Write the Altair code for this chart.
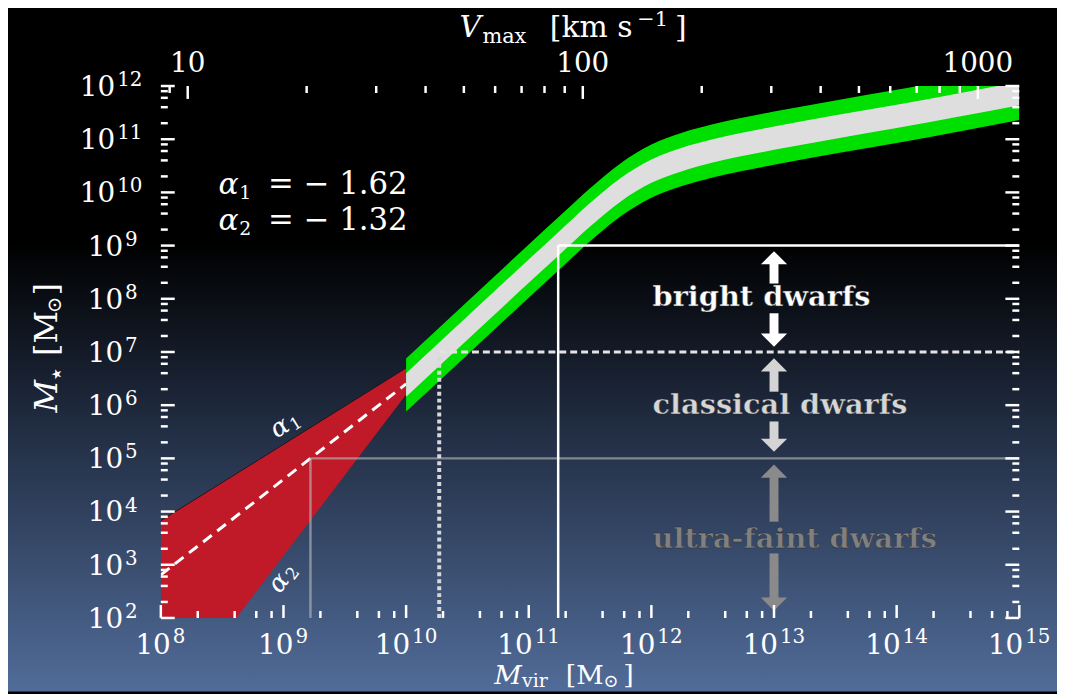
import altair as alt
import pandas as pd

W, H = 865, 536
PAD = {"left": 154, "top": 76, "right": 38, "bottom": 74}

XDOM = [1e8, 1e15]
YDOM = [1e2, 1e12]
VDOM = [8.55, 1273.0]
SERIF = "DejaVu Serif"

# ---- data (log10 values) ----
band_logmvir = [10.0, 10.5, 11.0, 11.25, 11.5, 11.75, 12.0, 12.25, 12.5, 13.0, 13.5, 14.0, 14.5, 15.0]
green_hi = [6.88, 7.95, 9.02, 9.55, 10.08, 10.55, 10.90, 11.12, 11.28, 11.52, 11.73, 11.93, 12.14, 12.36]
green_lo = [5.88, 6.95, 8.02, 8.55, 9.08, 9.55, 9.90, 10.12, 10.28, 10.52, 10.73, 10.93, 11.14, 11.36]
grey_hi = [6.60, 7.67, 8.74, 9.27, 9.80, 10.27, 10.62, 10.84, 11.00, 11.24, 11.45, 11.65, 11.86, 12.08]
grey_lo = [6.16, 7.23, 8.30, 8.83, 9.36, 9.83, 10.18, 10.40, 10.56, 10.80, 11.01, 11.21, 11.42, 11.64]

red_logmvir = [8.0, 8.615, 10.0]
red_hi = [3.83, 4.71, 6.70]
red_lo = [2.0, 2.0, 6.20]

dash_logmvir = [8.0, 10.0]
dash_logms = [2.81, 6.40]

# thresholds: (log Mvir of vertical line, log M* of horizontal line)
box_grey = (9.22, 5.0)
box_dot = (10.27, 7.0)
box_white = (11.24, 9.0)

arrow_group = ["bright", "bright", "classical", "classical", "ultra", "ultra"]
arrow_dir = ["up", "down", "up", "down", "up", "down"]
arrow_head = [8.772, 7.224, 6.757, 5.246, 4.761, 2.261]
arrow_tail = [8.287, 7.728, 6.254, 5.694, 3.810, 3.213]
arrow_logmvir = 13.0
group_colors = {"bright": "#ffffff", "classical": "#d4d4d4", "ultra": "#8a8a8a"}

dwarf_labels = ["bright dwarfs", "classical dwarfs", "ultra-faint dwarfs"]
dwarf_logms = [8.03, 6.01, 3.49]
dwarf_colors = ["#ffffff", "#d6d6d6", "#808080"]
dwarf_logmvir = 12.01

alpha_sub = ["1", "2"]
alpha_values = ["=  −  1.62", "=  −  1.32"]
alpha_text_logms = [10.13, 9.46]
alpha_text_logmvir = 8.47

edge_sub = ["1", "2"]
edge_logmvir = [9.01, 8.99]
edge_logms = [5.64, 2.75]
edge_angle = [328, 307]

x_major_exp = [8, 9, 10, 11, 12, 13, 14, 15]
y_major_exp = [2, 3, 4, 5, 6, 7, 8, 9, 10, 11, 12]
x_minor = [k * 10.0 ** n for n in range(8, 15) for k in (2, 4, 6, 8)]
y_minor = [k * 10.0 ** n for n in range(2, 12) for k in (2, 4, 6, 8)]
v_major = [10, 100, 1000]
v_minor = [9] + [k * 10 for k in range(2, 10)] + [k * 100 for k in range(2, 10)]


def xs():
    return alt.Scale(type="log", domain=XDOM, nice=False)


def ys():
    return alt.Scale(type="log", domain=YDOM, nice=False)


def X(f):
    return alt.X(f, type="quantitative", scale=xs(), axis=None)


def Y(f):
    return alt.Y(f, type="quantitative", scale=ys(), axis=None)


one = alt.Data(values=[{}])
layers = []

# ---- background gradient ----
grad = {
    "gradient": "linear", "x1": 0, "y1": 0, "x2": 0, "y2": 1,
    "stops": [
        {"offset": 0, "color": "#000000"},
        {"offset": 0.34, "color": "#000000"},
        {"offset": 0.62, "color": "#222e44"},
        {"offset": 1, "color": "#516c99"},
    ],
}
layers.append(
    alt.Chart(one).mark_rect(color=grad).encode(
        x=alt.value(-PAD["left"]), x2=alt.value(W + PAD["right"]),
        y=alt.value(-PAD["top"]), y2=alt.value(H + PAD["bottom"]),
    )
)

# ---- red wedge ----
red_df = pd.DataFrame({
    "m": [10 ** v for v in red_logmvir],
    "hi": [10 ** v for v in red_hi],
    "lo": [10 ** v for v in red_lo],
})
layers.append(
    alt.Chart(red_df).mark_area(color="#c01a28", clip=True)
    .encode(x=X("m"), y=Y("hi"), y2="lo:Q")
)
layers.append(
    alt.Chart(red_df).mark_line(color="#111111", strokeWidth=0.8, clip=True)
    .encode(x=X("m"), y=Y("hi"))
)

# ---- dashed median line ----
dash_df = pd.DataFrame({"m": [10 ** v for v in dash_logmvir], "s": [10 ** v for v in dash_logms]})
layers.append(
    alt.Chart(dash_df).mark_line(color="white", strokeWidth=3, strokeDash=[11, 7], clip=True)
    .encode(x=X("m"), y=Y("s"))
)

# ---- green / grey band ----
band_df = pd.DataFrame({
    "m": [10 ** v for v in band_logmvir],
    "ghi": [10 ** v for v in green_hi],
    "glo": [10 ** v for v in green_lo],
    "chi": [10 ** v for v in grey_hi],
    "clo": [10 ** v for v in grey_lo],
})
layers.append(
    alt.Chart(band_df).mark_area(color="#00e000", interpolate="monotone", clip=True)
    .encode(x=X("m"), y=Y("ghi"), y2="glo:Q")
)
layers.append(
    alt.Chart(band_df).mark_area(color="#dedede", interpolate="monotone", clip=True)
    .encode(x=X("m"), y=Y("chi"), y2="clo:Q")
)


# ---- threshold boxes ----
def box_rules(b):
    vx, hy = b
    vert = pd.DataFrame({"x": [10 ** vx], "x2": [10 ** vx], "y": [YDOM[0]], "y2": [10 ** hy]})
    hor = pd.DataFrame({"x": [10 ** vx], "x2": [XDOM[1]], "y": [10 ** hy], "y2": [10 ** hy]})
    return vert, hor


gv, gh = box_rules(box_grey)
for d in (gv, gh):
    layers.append(
        alt.Chart(d).mark_rule(color="#b4b4b4", opacity=0.65, strokeWidth=2.5)
        .encode(x=X("x"), x2="x2:Q", y=Y("y"), y2="y2:Q")
    )
dv, dh = box_rules(box_dot)
layers.append(
    alt.Chart(dv).mark_rule(color="#d8d8d8", strokeWidth=4, strokeDash=[4, 3])
    .encode(x=X("x"), x2="x2:Q", y=Y("y"), y2="y2:Q")
)
layers.append(
    alt.Chart(dh).mark_rule(color="#e4e4e4", strokeWidth=3, strokeDash=[7, 4])
    .encode(x=X("x"), x2="x2:Q", y=Y("y"), y2="y2:Q")
)
wv, wh = box_rules(box_white)
for d in (wv, wh):
    layers.append(
        alt.Chart(d).mark_rule(color="white", strokeWidth=2.5)
        .encode(x=X("x"), x2="x2:Q", y=Y("y"), y2="y2:Q")
    )

# ---- arrows ----
UP = "M-1,0.5L0,-0.5L1,0.5Z"
DOWN = "M-1,-0.5L0,0.5L1,-0.5Z"
arr_df = pd.DataFrame({
    "m": [10 ** arrow_logmvir] * len(arrow_group),
    "head": [10 ** v for v in arrow_head],
    "tail": [10 ** v for v in arrow_tail],
    "col": [group_colors[g] for g in arrow_group],
    "shp": [UP if d == "up" else DOWN for d in arrow_dir],
})
layers.append(
    alt.Chart(arr_df).mark_rule(strokeWidth=9, strokeCap="butt")
    .encode(x=X("m"), y=Y("head"), y2="tail:Q", color=alt.Color("col:N", scale=None))
)
layers.append(
    alt.Chart(arr_df).mark_point(filled=True, size=700, opacity=1)
    .encode(x=X("m"), y=Y("head"), color=alt.Color("col:N", scale=None),
            shape=alt.Shape("shp:N", scale=None))
)

# ---- dwarf labels ----
dw_df = pd.DataFrame({
    "m": [10 ** dwarf_logmvir] * 3,
    "s": [10 ** v for v in dwarf_logms],
    "t": dwarf_labels,
    "col": dwarf_colors,
})
layers.append(
    alt.Chart(dw_df).mark_text(align="left", baseline="middle", font=SERIF, fontWeight="bold",
                               fontSize=29, stroke="#2a2a2a", strokeWidth=0.4)
    .encode(x=X("m"), y=Y("s"), text="t:N", color=alt.Color("col:N", scale=None))
)

# ---- alpha annotations ----
al_df = pd.DataFrame({"m": [10 ** alpha_text_logmvir] * 2, "s": [10 ** v for v in alpha_text_logms],
                      "sub": alpha_sub, "val": alpha_values})
layers.append(
    alt.Chart(al_df).mark_text(text="α", align="left", baseline="alphabetic", font=SERIF, fontSize=30,
                               fontStyle="italic", color="white", dy=9)
    .encode(x=X("m"), y=Y("s"))
)
layers.append(
    alt.Chart(al_df).mark_text(align="left", baseline="alphabetic", font=SERIF, fontSize=19,
                               color="white", dx=21, dy=14)
    .encode(x=X("m"), y=Y("s"), text="sub:N")
)
layers.append(
    alt.Chart(al_df).mark_text(align="left", baseline="alphabetic", font=SERIF, fontSize=31,
                               color="white", dx=50, dy=9)
    .encode(x=X("m"), y=Y("s"), text="val:N")
)
for sub, lm, ls, ang in zip(edge_sub, edge_logmvir, edge_logms, edge_angle):
    d = pd.DataFrame({"m": [10 ** lm], "s": [10 ** ls], "sub": [sub]})
    layers.append(
        alt.Chart(d).mark_text(text="α", align="center", baseline="middle", font=SERIF, fontSize=26,
                               fontStyle="italic", color="white", angle=ang, dx=-6)
        .encode(x=X("m"), y=Y("s"))
    )
    layers.append(
        alt.Chart(d).mark_text(align="center", baseline="middle", font=SERIF, fontSize=17,
                               color="white", angle=ang, dx=10, dy=6)
        .encode(x=X("m"), y=Y("s"), text="sub:N")
    )

# ---- ticks (inward) ----
TK = dict(color="white", strokeWidth=2.5)
xmaj = pd.DataFrame({"v": [10.0 ** e for e in x_major_exp]})
xmin = pd.DataFrame({"v": x_minor})
ymaj = pd.DataFrame({"v": [10.0 ** e for e in y_major_exp]})
ymin = pd.DataFrame({"v": y_minor})
for d, L in ((xmaj, 13), (xmin, 7)):
    layers.append(alt.Chart(d).mark_rule(**TK).encode(x=X("v"), y=alt.value(H), y2=alt.value(H - L)))
for d, L in ((ymaj, 14), (ymin, 7)):
    layers.append(alt.Chart(d).mark_rule(**TK).encode(y=Y("v"), x=alt.value(0), x2=alt.value(L)))
    layers.append(alt.Chart(d).mark_rule(**TK).encode(y=Y("v"), x=alt.value(W), x2=alt.value(W - L)))
vX = alt.X("v", type="quantitative", scale=alt.Scale(type="log", domain=VDOM, nice=False), axis=None)
vmaj = pd.DataFrame({"v": v_major, "t": [str(v) for v in v_major]})
vmin = pd.DataFrame({"v": v_minor})
for d, L in ((vmaj, 13), (vmin, 7)):
    layers.append(alt.Chart(d).mark_rule(**TK).encode(x=vX, y=alt.value(0), y2=alt.value(L)))
layers.append(
    alt.Chart(vmaj).mark_text(align="center", baseline="alphabetic", font=SERIF, fontSize=28, color="white")
    .encode(x=vX, y=alt.value(-14), text="t:N")
)

# ---- tick labels 10^n ----
for ndig in (1, 2):
    ex = [e for e in x_major_exp if len(str(e)) == ndig]
    d = pd.DataFrame({"v": [10.0 ** e for e in ex], "e": [str(e) for e in ex]})
    dxb = 10 if ndig == 1 else 4
    layers.append(
        alt.Chart(d).mark_text(text="10", align="right", baseline="alphabetic", font=SERIF,
                               fontSize=28, color="white", dx=dxb)
        .encode(x=X("v"), y=alt.value(H + 36))
    )
    layers.append(
        alt.Chart(d).mark_text(align="left", baseline="alphabetic", font=SERIF,
                               fontSize=20, color="white", dx=dxb + 2)
        .encode(x=X("v"), y=alt.value(H + 25), text="e:N")
    )
    ey = [e for e in y_major_exp if len(str(e)) == ndig]
    d = pd.DataFrame({"v": [10.0 ** e for e in ey], "e": [str(e) for e in ey]})
    xb = -38 if ndig == 1 else -46
    layers.append(
        alt.Chart(d).mark_text(text="10", align="right", baseline="alphabetic", font=SERIF,
                               fontSize=28, color="white", dy=10)
        .encode(y=Y("v"), x=alt.value(xb))
    )
    layers.append(
        alt.Chart(d).mark_text(align="left", baseline="alphabetic", font=SERIF,
                               fontSize=20, color="white", dy=0)
        .encode(y=Y("v"), x=alt.value(xb + 2), text="e:N")
    )


# ---- axis titles (composed pieces) ----
def piece(txt, vx, vy, size, italic=False, angle=0):
    kw = dict(text=txt, align="left", baseline="alphabetic", font=SERIF, fontSize=size,
              color="white", angle=angle)
    if italic:
        kw["fontStyle"] = "italic"
    return alt.Chart(one).mark_text(**kw).encode(x=alt.value(vx), y=alt.value(vy))


# top: V_max [km s^-1]
layers += [
    piece("V", 301, -49, 30, italic=True),
    piece("max", 324, -43, 21),
    piece("[km s", 392, -49, 30),
    piece("−1", 480, -60, 21),
    piece("]", 518, -49, 30),
]
# bottom: M_vir [M_sun]
layers += [
    piece("M", 336, 603, 27, italic=True),
    piece("vir", 364, 606, 19),
    piece("[M", 408, 603, 27),
    piece("⊙", 446, 606, 18),
    piece("]", 466, 603, 27),
]
# left: M_star [M_sun]  (rotated)
layers += [
    piece("M", -105, 329, 32, italic=True, angle=270),
    piece("★", -101, 296, 13, angle=270),
    piece("[M", -105, 272, 32, angle=270),
    piece("⊙", -101, 229, 20, angle=270),
    piece("]", -105, 211, 32, angle=270),
]

chart = (
    alt.layer(*layers)
    .resolve_scale(x="independent", y="independent")
    .properties(width=W, height=H, padding=PAD, autosize=alt.AutoSizeParams(type="none"),
                background="#000000")
    .configure_view(stroke="white", strokeWidth=3)
)
chart.save("out.html", embed_options={"renderer": "svg", "actions": False})
